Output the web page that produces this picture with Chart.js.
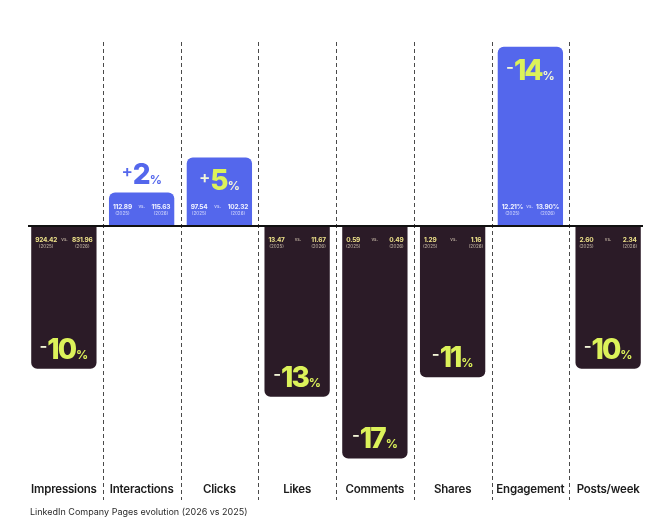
<!DOCTYPE html>
<html lang="en">
<head>
    <meta charset="UTF-8" />
    <title>LinkedIn Company Pages evolution</title>
    <style>
        html, body {
            margin: 0;
            padding: 0;
            background: #ffffff;
        }
        canvas {
            display: block;
        }
    </style>
    <script src="https://cdn.jsdelivr.net/npm/chart.js"></script>
</head>
<body>
    <canvas id="evolutionChart" width="667" height="525"></canvas>

    <script>
        const categories = ["Impressions", "Interactions", "Clicks", "Likes", "Comments", "Shares", "Engagement", "Posts/week"];
        // bar length as drawn in the picture (sign = direction of the bar)
        const barLength = [-10.2, 2.4, 4.9, -12.2, -16.6, -10.8, 12.8, -10.2];
        const changeLabels = ["-10", "+2", "+5", "-13", "-17", "-11", "-14", "-10"];
        const values2025 = ["924.42", "112.89", "97.54", "13.47", "0.59", "1.29", "12.21%", "2.60"];
        const values2026 = ["831.96", "115.63", "102.32", "11.67", "0.49", "1.16", "13.90%", "2.34"];
        const footerText = "LinkedIn Company Pages evolution (2026 vs 2025)";

        const DARK = "#2b1b27";
        const BLUE = "#5467ec";
        const LIME = "#dcf25a";
        const FONT = "Inter, 'Noto Sans', sans-serif";

        function drawChange(ctx, cx, cy, text, colors) {
            const sign = text[0];
            const num = text.slice(1);
            const signFont = "600 17px " + FONT;
            const numFont = "800 28px " + FONT;
            const pctFont = "700 12px " + FONT;
            ctx.letterSpacing = "0px";
            ctx.font = signFont;
            const ws = ctx.measureText(sign).width;
            ctx.letterSpacing = "-2px";
            ctx.font = numFont;
            const wn = ctx.measureText(num).width;
            ctx.letterSpacing = "0px";
            ctx.font = pctFont;
            const wp = ctx.measureText("%").width;
            const total = ws + wn + wp + 1;
            let xx = cx - total / 2;
            ctx.textAlign = "left";
            ctx.textBaseline = "alphabetic";
            const base = cy + 10;
            ctx.font = signFont;
            ctx.fillStyle = colors[0];
            ctx.fillText(sign, xx, base - 7);
            xx += ws;
            ctx.letterSpacing = "-2px";
            ctx.font = numFont;
            ctx.fillStyle = colors[1];
            ctx.fillText(num, xx, base);
            ctx.letterSpacing = "0px";
            xx += wn + 1;
            ctx.font = pctFont;
            ctx.fillStyle = colors[2];
            ctx.fillText("%", xx, base);
        }

        const overlayPlugin = {
            id: "overlay",
            beforeDatasetsDraw(chart) {
                const { ctx, scales: { x } } = chart;
                ctx.save();
                ctx.strokeStyle = "#4a4a4a";
                ctx.lineWidth = 1;
                ctx.setLineDash([4, 3]);
                for (let i = 0; i < categories.length - 1; i++) {
                    const xm = Math.round((x.getPixelForValue(i) + x.getPixelForValue(i + 1)) / 2) + 0.5;
                    ctx.beginPath();
                    ctx.moveTo(xm, 42);
                    ctx.lineTo(xm, 500);
                    ctx.stroke();
                }
                ctx.restore();
            },
            afterDatasetsDraw(chart) {
                const { ctx, scales: { x, y } } = chart;
                const zero = y.getPixelForValue(0);
                const meta = chart.getDatasetMeta(0);
                ctx.save();

                // zero line
                ctx.strokeStyle = "#111111";
                ctx.lineWidth = 2;
                ctx.beginPath();
                ctx.moveTo(28, zero);
                ctx.lineTo(643, zero);
                ctx.stroke();

                meta.data.forEach((bar, i) => {
                    const cx = bar.x;
                    const up = barLength[i] > 0;
                    const left = cx - bar.width / 2;
                    const right = cx + bar.width / 2;

                    // 2025 vs 2026 values near the zero line
                    const vy = up ? zero - 19 : zero + 14;
                    const valColor = up ? "#f1f3ff" : "#eee28a";
                    const subColor = up ? "#c9cffb" : "#b7a99a";
                    const valFont = "700 6.5px " + FONT;
                    ctx.textBaseline = "middle";
                    ctx.letterSpacing = "-0.2px";
                    ctx.font = valFont;
                    const w1 = ctx.measureText(values2025[i]).width;
                    const w2 = ctx.measureText(values2026[i]).width;
                    ctx.fillStyle = valColor;
                    ctx.textAlign = "left";
                    ctx.fillText(values2025[i], left + 4, vy);
                    ctx.textAlign = "right";
                    ctx.fillText(values2026[i], right - 4, vy);
                    ctx.letterSpacing = "0px";
                    ctx.textAlign = "center";
                    ctx.font = "600 4.5px " + FONT;
                    ctx.fillStyle = subColor;
                    ctx.fillText("vs.", (left + 4 + w1 + right - 4 - w2) / 2, vy);
                    ctx.font = "500 4.5px " + FONT;
                    ctx.fillText("(2025)", left + 4 + w1 / 2, vy + 7);
                    ctx.fillText("(2026)", right - 4 - w2 / 2, vy + 7);

                    // percent change
                    const lenPx = Math.abs(bar.y - zero);
                    if (up && lenPx < 50) {
                        drawChange(ctx, cx, bar.y - 18, changeLabels[i], [BLUE, BLUE, BLUE]);
                    } else if (up) {
                        drawChange(ctx, cx, bar.y + 23, changeLabels[i], ["#f3f6d8", LIME, "#f3f6d8"]);
                    } else {
                        drawChange(ctx, cx, bar.y - 20, changeLabels[i], ["#f3f6d8", LIME, LIME]);
                    }

                    // category name
                    ctx.textAlign = "center";
                    ctx.textBaseline = "middle";
                    ctx.letterSpacing = "-0.2px";
                    ctx.font = "600 11.5px " + FONT;
                    ctx.fillStyle = "#1c1c1c";
                    ctx.fillText(categories[i], x.getPixelForValue(i), 490);
                    ctx.letterSpacing = "0px";
                });

                ctx.textAlign = "left";
                ctx.textBaseline = "middle";
                ctx.font = "400 9px " + FONT;
                ctx.fillStyle = "#2a2a2a";
                ctx.fillText(footerText, 30, 512);
                ctx.restore();
            }
        };

        new Chart(document.getElementById("evolutionChart").getContext("2d"), {
            type: "bar",
            data: {
                labels: categories,
                datasets: [
                    {
                        data: barLength,
                        backgroundColor: barLength.map((v) => (v > 0 ? BLUE : DARK)),
                        borderRadius: 6,
                        borderSkipped: "start",
                        barPercentage: 0.84,
                        categoryPercentage: 1,
                    },
                ],
            },
            options: {
                responsive: false,
                animation: false,
                events: [],
                layout: {
                    padding: { left: 25, right: 20, top: 44, bottom: 54 },
                },
                plugins: {
                    legend: { display: false },
                    tooltip: { enabled: false },
                },
                scales: {
                    x: { display: false },
                    y: { display: false, min: -17.5, max: 13 },
                },
            },
            plugins: [overlayPlugin],
        });
    </script>
</body>
</html>
